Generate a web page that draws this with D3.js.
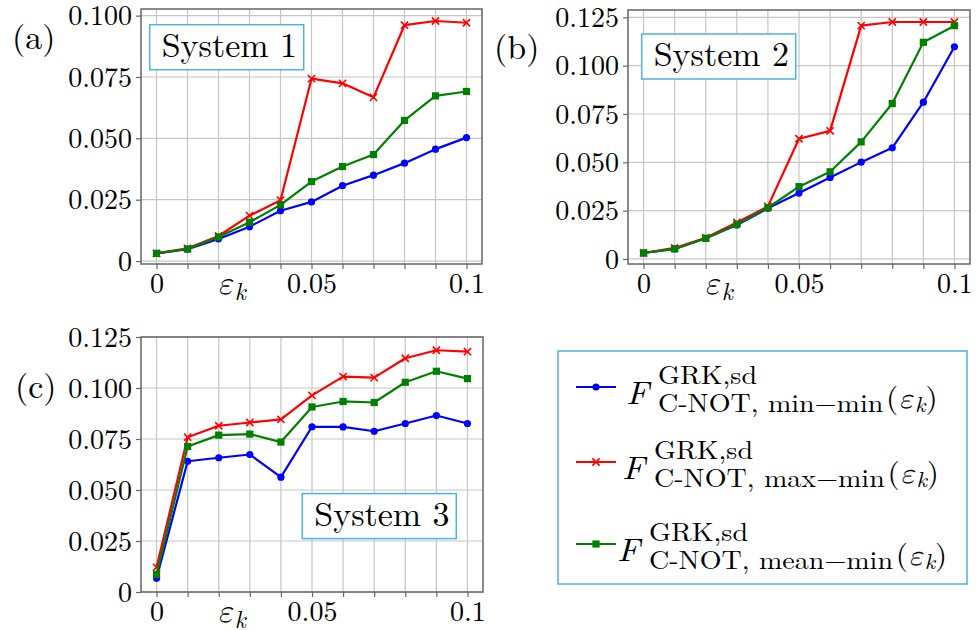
<!DOCTYPE html>
<html>
<head>
<meta charset="utf-8">
<script src="https://cdn.jsdelivr.net/npm/d3@7"></script>
</head>
<body style="margin:0;background:#fff">
<div id="chart"></div>
<script>
// x values (epsilon_k)
const epsilon = [0, 0.01, 0.02, 0.03, 0.04, 0.05, 0.06, 0.07, 0.08, 0.09, 0.1];

// System 1
const sys1Min  = [0.0031, 0.0048, 0.0090, 0.0140, 0.0205, 0.0241, 0.0307, 0.0350, 0.0399, 0.0456, 0.0503];
const sys1Max  = [0.0031, 0.0052, 0.0102, 0.0185, 0.0248, 0.0743, 0.0724, 0.0667, 0.0961, 0.0978, 0.0971];
const sys1Mean = [0.0031, 0.0049, 0.0098, 0.0158, 0.0229, 0.0324, 0.0385, 0.0434, 0.0573, 0.0673, 0.0691];

// System 2
const sys2Min  = [0.0031, 0.0052, 0.0107, 0.0176, 0.0262, 0.0341, 0.0422, 0.0501, 0.0575, 0.0811, 0.1098];
const sys2Max  = [0.0031, 0.0057, 0.0110, 0.0189, 0.0272, 0.0622, 0.0663, 0.1207, 0.1226, 0.1226, 0.1226];
const sys2Mean = [0.0031, 0.0052, 0.0107, 0.0179, 0.0265, 0.0374, 0.0451, 0.0606, 0.0804, 0.1121, 0.1207];

// System 3
const sys3Min  = [0.0067, 0.0641, 0.0658, 0.0674, 0.0563, 0.0810, 0.0809, 0.0788, 0.0826, 0.0865, 0.0826];
const sys3Max  = [0.0121, 0.0759, 0.0815, 0.0831, 0.0846, 0.0964, 0.1056, 0.1051, 0.1146, 0.1185, 0.1178];
const sys3Mean = [0.0086, 0.0713, 0.0769, 0.0774, 0.0735, 0.0907, 0.0934, 0.0929, 0.1028, 0.1082, 0.1046];

// tick values
const xTicks = [0, 0.01, 0.02, 0.03, 0.04, 0.05, 0.06, 0.07, 0.08, 0.09, 0.1];
const xLabelled = [0, 0.05, 0.1];
const yTicksA = [0, 0.025, 0.05, 0.075, 0.1];
const yTicksBC = [0, 0.025, 0.05, 0.075, 0.1, 0.125];

const seriesStyle = [
  { key: 'min',  color: '#0000ff', marker: 'circle', sub: 'C-NOT, min\u2212min' },
  { key: 'max',  color: '#ff0000', marker: 'cross',  sub: 'C-NOT, max\u2212min' },
  { key: 'mean', color: '#008000', marker: 'square', sub: 'C-NOT, mean\u2212min' }
];

const panels = [
  { label: '(a)', name: 'System 1', frame: { x0: 141, x1: 482, y0: 9, y1: 264 },
    yDomain: [-0.0012, 0.1027], yTicks: yTicksA,
    data: { min: sys1Min, max: sys1Max, mean: sys1Mean },
    labelPos: [-129, 40], box: [8.7, 15.7] },
  { label: '(b)', name: 'System 2', frame: { x0: 628, x1: 970, y0: 10, y1: 264 },
    yDomain: [-0.0026, 0.1288], yTicks: yTicksBC,
    data: { min: sys2Min, max: sys2Max, mean: sys2Mean },
    labelPos: [-134, 49], box: [13.7, 24] },
  { label: '(c)', name: 'System 3', frame: { x0: 141, x1: 483, y0: 337, y1: 592 },
    yDomain: [0, 0.125], yTicks: yTicksBC,
    data: { min: sys3Min, max: sys3Max, mean: sys3Mean },
    labelPos: [-126, 61], box: [161.3, 156.6] }
];

const FONT = '"Latin Modern Roman", "Liberation Serif", serif';
const GREEK = '"Latin Modern Math", "Liberation Serif", serif';
const boxBlue = '#4cb3e6';
const gridColor = '#c6c6c6';
const frameColor = '#666';

const svg = d3.select('#chart').append('svg')
  .attr('width', 976)
  .attr('height', 630)
  .attr('font-family', FONT);

svg.append('rect').attr('width', 976).attr('height', 630).attr('fill', '#fff');

function drawMarker(g, type, color, x, y) {
  if (type === 'circle') {
    g.append('circle').attr('cx', x).attr('cy', y).attr('r', 3.6).attr('fill', color);
  } else if (type === 'square') {
    g.append('rect').attr('x', x - 3.6).attr('y', y - 3.6)
      .attr('width', 7.2).attr('height', 7.2).attr('fill', color);
  } else {
    const s = 3.6;
    g.append('path')
      .attr('d', `M${x - s},${y - s}L${x + s},${y + s}M${x - s},${y + s}L${x + s},${y - s}`)
      .attr('stroke', color).attr('stroke-width', 1.6).attr('fill', 'none');
  }
}

// epsilon_k in math style
function epsK(sel, size, subSize, drop) {
  sel.append('tspan').attr('font-family', GREEK).attr('font-style', 'italic')
    .attr('font-size', size).text('\u03b5');
  sel.append('tspan').attr('font-style', 'italic').attr('font-size', subSize)
    .attr('dy', drop).text('k');
}

panels.forEach(p => {
  const f = p.frame;
  const x = d3.scaleLinear().domain([-0.005, 0.105]).range([f.x0, f.x1]);
  const y = d3.scaleLinear().domain(p.yDomain).range([f.y1, f.y0]);
  const g = svg.append('g');

  // grid
  g.append('g').selectAll('line').data(xTicks).join('line')
    .attr('x1', d => x(d)).attr('x2', d => x(d))
    .attr('y1', f.y0).attr('y2', f.y1)
    .attr('stroke', gridColor).attr('stroke-width', 1.2);
  g.append('g').selectAll('line').data(p.yTicks).join('line')
    .attr('x1', f.x0).attr('x2', f.x1)
    .attr('y1', d => y(d)).attr('y2', d => y(d))
    .attr('stroke', gridColor).attr('stroke-width', 1.2);

  // axes
  const xAxis = d3.axisBottom(x).tickValues(xTicks).tickSize(5).tickPadding(6)
    .tickFormat(d => xLabelled.some(v => Math.abs(v - d) < 1e-9) ? (d === 0 ? '0' : String(+d.toFixed(2))) : '');
  const ax = g.append('g').attr('transform', `translate(0,${f.y1})`).call(xAxis)
    .attr('font-family', FONT);
  ax.select('.domain').remove();
  ax.selectAll('line').attr('stroke', frameColor).attr('stroke-width', 1.2);
  ax.selectAll('text').attr('font-size', 28).attr('dy', 0).attr('y', 29)
    .attr('font-family', FONT);

  const yAxis = d3.axisLeft(y).tickValues(p.yTicks).tickSize(5).tickPadding(4)
    .tickFormat(d => d === 0 ? '0' : d.toFixed(3));
  const ay = g.append('g').attr('transform', `translate(${f.x0},0)`).call(yAxis)
    .attr('font-family', FONT);
  ay.select('.domain').remove();
  ay.selectAll('line').attr('stroke', frameColor).attr('stroke-width', 1.2);
  ay.selectAll('text').attr('font-size', 28).attr('dy', '0.33em')
    .attr('font-family', FONT);

  // frame
  g.append('rect').attr('x', f.x0).attr('y', f.y0)
    .attr('width', f.x1 - f.x0).attr('height', f.y1 - f.y0)
    .attr('fill', 'none').attr('stroke', frameColor).attr('stroke-width', 1.5);

  // series
  const line = d3.line().x((d, i) => x(epsilon[i])).y(d => y(d));
  seriesStyle.forEach(s => {
    const vals = p.data[s.key];
    g.append('path').datum(vals)
      .attr('d', line)
      .attr('fill', 'none').attr('stroke', s.color).attr('stroke-width', 2.2)
      .attr('stroke-linejoin', 'round');
    const mg = g.append('g');
    vals.forEach((v, i) => drawMarker(mg, s.marker, s.color, x(epsilon[i]), y(v)));
  });

  // panel label
  g.append('text').attr('x', f.x0 + p.labelPos[0]).attr('y', f.y0 + p.labelPos[1])
    .attr('font-size', 34).text(p.label);

  // x axis label
  const xl = g.append('text').attr('x', f.x0 + 76).attr('y', f.y1 + 30);
  epsK(xl, 33, 24, 6);

  // system box
  const bx = f.x0 + p.box[0], by = f.y0 + p.box[1];
  g.append('rect').attr('x', bx).attr('y', by).attr('width', 154).attr('height', 45)
    .attr('fill', '#fff').attr('stroke', boxBlue).attr('stroke-width', 1.5);
  g.append('text').attr('x', bx + 12).attr('y', by + 32).attr('font-size', 34).text(p.name);
});

// legend
const leg = svg.append('g');
leg.append('rect').attr('x', 558).attr('y', 351).attr('width', 409).attr('height', 233)
  .attr('fill', '#fff').attr('stroke', boxBlue).attr('stroke-width', 1.5);

const legRows = [387, 462, 544];
const legTextX = [626, 622, 617];
const stretch = 1.08;

seriesStyle.forEach((s, i) => {
  const cy = legRows[i];
  leg.append('line').attr('x1', 576).attr('x2', 616).attr('y1', cy).attr('y2', cy)
    .attr('stroke', s.color).attr('stroke-width', 2.2);
  drawMarker(leg, s.marker, s.color, 596, cy);

  const t = leg.append('g')
    .attr('transform', `translate(${legTextX[i]},${cy}) scale(${stretch},1)`);
  t.append('text').attr('x', 0).attr('y', 16.5)
    .attr('font-size', 32).attr('font-style', 'italic').text('F');

  const sx = 32 / stretch;
  t.append('text').attr('x', sx).attr('y', -3.5)
    .attr('font-size', 26).text('GRK,sd');
  const sub = t.append('text').attr('x', sx).attr('y', 24.7)
    .attr('font-size', 26).text(s.sub);
  const sw = sub.node().getComputedTextLength();

  const par = t.append('text').attr('x', sx + sw + 2.5).attr('y', 21)
    .attr('font-size', 29);
  par.append('tspan').text('(');
  epsK(par, 29, 21, 4);
  par.append('tspan').attr('dy', -4).text(')');
});
</script>
</body>
</html>
